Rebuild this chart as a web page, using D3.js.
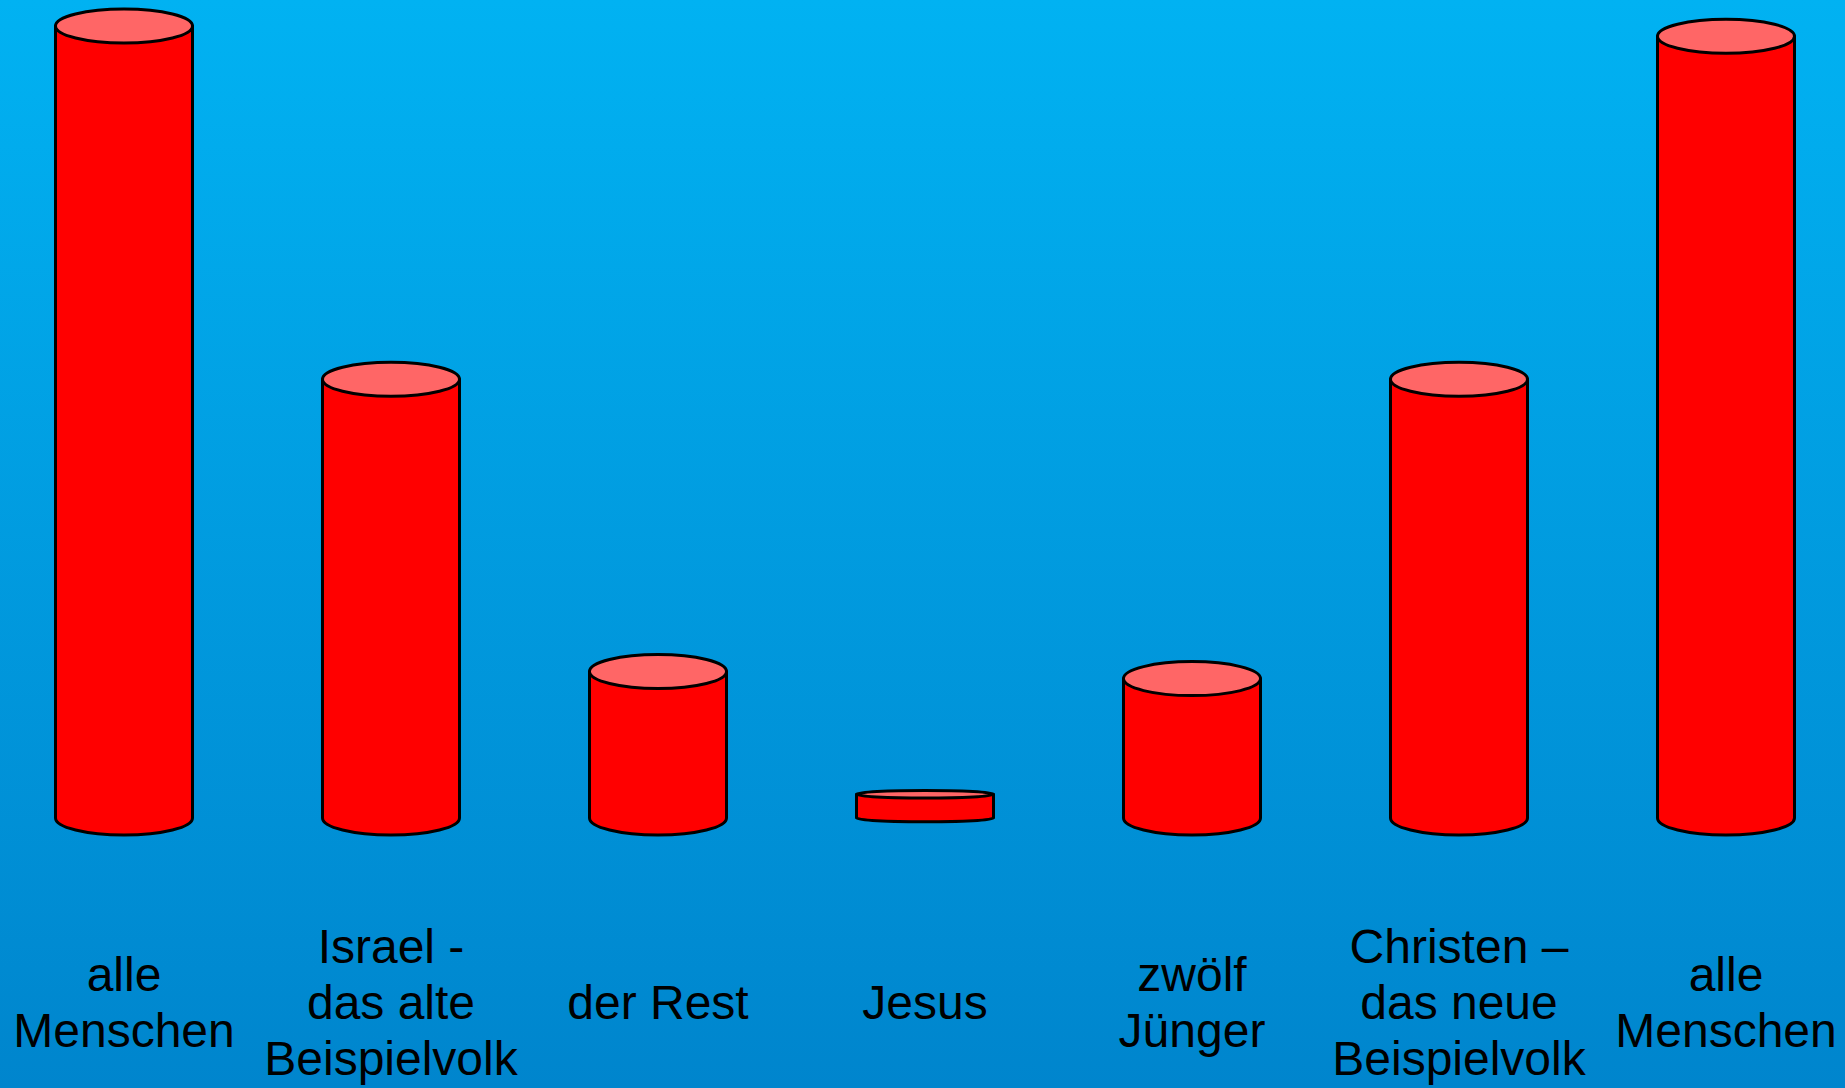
<!DOCTYPE html>
<html>
<head>
<meta charset="utf-8">
<script src="https://cdn.jsdelivr.net/npm/d3@7"></script>
<style>
  body { margin: 0; padding: 0; overflow: hidden; }
  svg { display: block; }
</style>
</head>
<body>
<svg id="chart"></svg>
<script>
// categories (one label per column, split into lines)
var categories = ["alle Menschen", "Israel", "der Rest", "Jesus", "zwölf Jünger", "Christen", "alle Menschen 2"];
var labelLines = [
  ["alle", "Menschen"],
  ["Israel -", "das alte", "Beispielvolk"],
  ["der Rest"],
  ["Jesus"],
  ["zwölf", "Jünger"],
  ["Christen –", "das neue", "Beispielvolk"],
  ["alle", "Menschen"]
];
// relative size of each group
var values = [100, 55.4, 18.5, 3.0, 17.6, 55.4, 98.7];

var width = 1845, height = 1088;
var baseline = 818;
var colW = 137;

var svg = d3.select("#chart").attr("width", width).attr("height", height);

// background gradient
var defs = svg.append("defs");
var grad = defs.append("linearGradient")
    .attr("id", "bg").attr("x1", 0).attr("y1", 0).attr("x2", 0).attr("y2", 1);
grad.append("stop").attr("offset", "0%").attr("stop-color", "#01b2f2");
grad.append("stop").attr("offset", "100%").attr("stop-color", "#0085cd");
svg.append("rect").attr("width", width).attr("height", height).attr("fill", "url(#bg)");

var x = d3.scalePoint()
    .domain(categories)
    .range([124, 1726]);

var y = d3.scaleLinear()
    .domain([0, 100])
    .range([baseline, 26]);

var data = categories.map(function(c, i) {
  return { cat: c, value: values[i], lines: labelLines[i] };
});

var cyl = svg.append("g").selectAll("g")
    .data(data)
    .enter()
    .append("g");

// flatter lids for very short cans
function ry(d) {
  return Math.min(17, (baseline - y(d.value)) * 0.16);
}

// body with rounded bottom
cyl.append("path")
    .attr("d", function(d) {
      var cx = x(d.cat), rx = colW / 2, r = ry(d);
      var x0 = cx - rx, x1 = cx + rx, yt = y(d.value);
      return "M" + x0 + "," + yt + " L" + x0 + "," + baseline +
             " A" + rx + "," + r + " 0 0 0 " + x1 + "," + baseline +
             " L" + x1 + "," + yt + " Z";
    })
    .attr("fill", "#ff0000")
    .attr("stroke", "black")
    .attr("stroke-width", 3)
    .attr("stroke-linejoin", "round");

// top lid
cyl.append("ellipse")
    .attr("cx", function(d) { return x(d.cat); })
    .attr("cy", function(d) { return y(d.value); })
    .attr("rx", colW / 2)
    .attr("ry", ry)
    .attr("fill", "#ff6666")
    .attr("stroke", "black")
    .attr("stroke-width", 3);

// labels, centred on the middle line
var lineH = 56;
var labels = svg.append("g").selectAll("text")
    .data(data)
    .enter()
    .append("text")
    .attr("x", function(d) { return x(d.cat); })
    .attr("y", function(d) { return 1019 - (d.lines.length - 1) / 2 * lineH; })
    .attr("text-anchor", "middle")
    .style("font-family", "'Liberation Sans', Arial, sans-serif")
    .style("font-size", "48px")
    .attr("fill", "black");

labels.selectAll("tspan")
    .data(function(d) { return d.lines.map(function(l) { return { line: l, cx: x(d.cat) }; }); })
    .enter()
    .append("tspan")
    .attr("x", function(t) { return t.cx; })
    .attr("dy", function(t, i) { return i === 0 ? 0 : lineH; })
    .text(function(t) { return t.line; });
</script>
</body>
</html>
